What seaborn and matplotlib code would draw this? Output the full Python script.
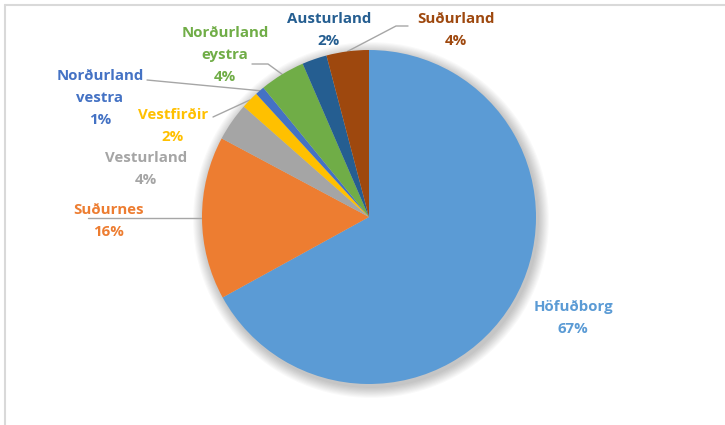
import matplotlib
matplotlib.use("Agg")
import matplotlib.pyplot as plt
import seaborn as sns
import numpy as np

regions = ["Höfuðborg", "Suðurnes", "Vesturland", "Vestfirðir",
           "Norðurland\nvestra", "Norðurland\neystra", "Austurland", "Suðurland"]
shares = [67.0, 15.8, 3.7, 1.7, 0.9, 4.4, 2.4, 4.1]
colors = ["#5B9BD5", "#ED7D31", "#A5A5A5", "#FFC000",
          "#4472C4", "#70AD47", "#255E91", "#9E480E"]
text_colors = ["#5B9BD5", "#ED7D31", "#A5A5A5", "#FFC000",
               "#4472C4", "#70AD47", "#255E91", "#9E480E"]

sns.set_theme(style="white")
plt.rcParams['font.family'] = ['Open Sans', 'DejaVu Sans']

W, H = 725, 425
fig = plt.figure(figsize=(W / 100, H / 100), dpi=100)
ax = fig.add_axes([0, 0, 1, 1])

cx, cy, r = 369, H - 217, 167

# soft shadow
for k in range(10):
    ax.add_patch(plt.Circle((cx + 2, cy - 3), r + 1 + k * 1.1, color="black",
                            alpha=0.025, lw=0, zorder=0))

pal = sns.color_palette(colors)
wedges, _ = ax.pie(shares, colors=pal, startangle=90, counterclock=False,
                   center=(cx, cy), radius=r, frame=True,
                   wedgeprops=dict(linewidth=0, zorder=2))
ax.set_xlim(0, W)
ax.set_ylim(0, H)
ax.set_aspect("equal")
ax.axis("off")

# label positions (pixel coords, centre of text block)
label_pos = {
    0: (573, 318),
    1: (109, 221),
    2: (146, 169),
    3: (173, 126),
    4: (100, 98),
    5: (225, 55),
    6: (329, 30),
    7: (456, 30),
}

for i, w in enumerate(wedges):
    name = regions[i]
    pct = f"{round(shares[i])}%"
    lx, ly = label_pos[i]
    ax.text(lx, H - ly, f"{name}\n{pct}", ha="center", va="center",
            color=text_colors[i], fontsize=10.8, fontweight="bold",
            linespacing=1.75, zorder=5)

ang = lambda w: np.deg2rad((w.theta1 + w.theta2) / 2)
def edge(w, f=1.0):
    a = ang(w)
    return (cx + f * r * np.cos(a), cy + f * r * np.sin(a))

lc = dict(color="#A6A6A6", lw=1, zorder=1)
# Suðurnes
ax.plot([cx - r + 1, 88], [H - 218, H - 218], **lc)
# Vestfirðir
ex, ey = edge(wedges[3])
ax.plot([ex, 213], [ey, H - 117], **lc)
# Norðurland vestra
ex, ey = edge(wedges[4])
ax.plot([ex, 147], [ey, H - 80], **lc)
# Norðurland eystra
ex, ey = edge(wedges[5])
ax.plot([ex, 268, 252], [ey, H - 64, H - 64], **lc)
# Suðurland
ex, ey = edge(wedges[7])
ax.plot([ex, 396, 408], [ey, H - 26, H - 26], **lc)

# chart border (top and left)
fig.add_artist(plt.Line2D([4.5 / W, 1], [1 - 4.5 / H, 1 - 4.5 / H],
                          transform=fig.transFigure, color="#D9D9D9", lw=1.5))
fig.add_artist(plt.Line2D([4.5 / W, 4.5 / W], [0, 1 - 4.5 / H],
                          transform=fig.transFigure, color="#D9D9D9", lw=1.5))

fig.savefig("out.png", dpi=100, facecolor="white")
